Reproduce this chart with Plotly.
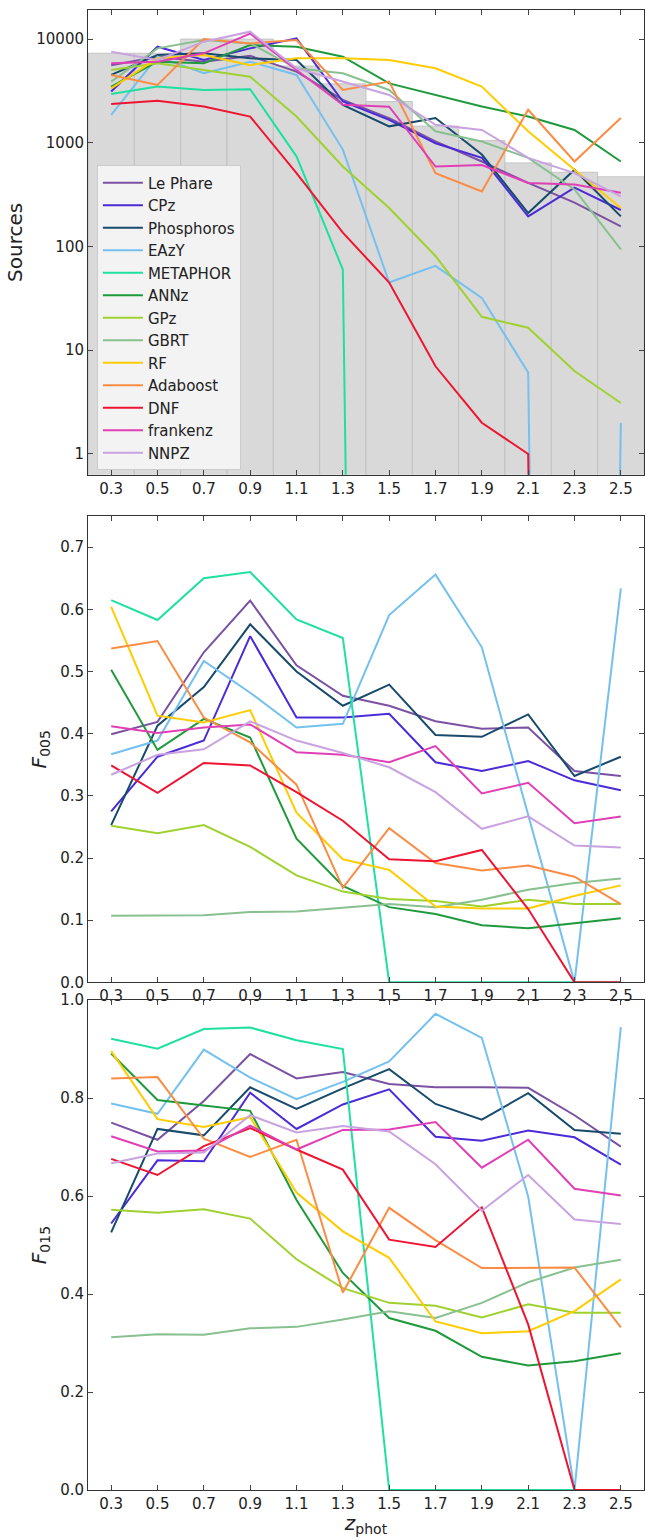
import plotly.graph_objects as go

z = [0.3, 0.5, 0.7, 0.9, 1.1, 1.3, 1.5, 1.7, 1.9, 2.1, 2.3, 2.5]
hist_counts = [7300, 7300, 10000, 10000, 5500, 3700, 2500, 1450, 1050, 640, 520, 470]

names = ["Le Phare", "CPz", "Phosphoros", "EAzY", "METAPHOR", "ANNz", "GPz", "GBRT",
         "RF", "Adaboost", "DNF", "frankenz", "NNPZ"]
colors = ["#7b52a3", "#4b2ad8", "#174a6b", "#74c0ee", "#1fe0a0", "#1e9a3c", "#9fd12f",
          "#88c090", "#ffcc00", "#fb8c43", "#ee1533", "#e03fb5", "#c9a2e0"]

sources = {
    "Le Phare": [5600, 6760, 6050, 6880, 4850, 2590, 1730, 1030, 660, 410, 265, 156],
    "CPz": [3120, 8440, 6280, 8130, 10150, 2500, 1660, 990, 715, 195, 370, 225],
    "Phosphoros": [4510, 7000, 7280, 6520, 6280, 2320, 1440, 1730, 770, 210, 550, 195],
    "EAzY": [1860, 6760, 4680, 6050, 4510, 860, 45, 65, 32, 6.1, 0, 2.0],
    "METAPHOR": [2960, 3480, 3230, 3280, 740, 60, 0, 0, 0, 0, 0, 0],
    "ANNz": [3480, 6050, 5830, 8760, 8440, 6760, 3740, 2890, 2240, 1790, 1330, 660],
    "GPz": [5030, 5830, 5030, 4340, 1790, 590, 235, 81, 21, 16.5, 6.3, 3.1],
    "GBRT": [3890, 8130, 9780, 9080, 5220, 4680, 3230, 1290, 1030, 715, 355, 94],
    "RF": [3350, 6520, 7000, 5600, 6520, 6520, 6280, 5220, 3480, 1290, 550, 235],
    "Adaboost": [4510, 3610, 10000, 9080, 9780, 3230, 3890, 510, 340, 2080, 660, 1730],
    "DNF": [2370, 2540, 2240, 1790, 510, 136, 45, 7.0, 2.0, 1.0, 0, 0],
    "frankenz": [5830, 6050, 7280, 11300, 5030, 2320, 2230, 590, 610, 410, 395, 330],
    "NNPZ": [7550, 6280, 9430, 11770, 5220, 3890, 2890, 1490, 1330, 715, 510, 305],
}
f005 = {
    "Le Phare": [.399, .419, .531, .614, .510, .461, .445, .420, .408, .410, .340, .332],
    "CPz": [.275, .363, .389, .557, .426, .426, .432, .354, .340, .356, .325, .309],
    "Phosphoros": [.253, .413, .475, .576, .500, .445, .479, .398, .395, .431, .332, .363],
    "EAzY": [.367, .389, .517, .466, .410, .416, .591, .656, .539, .270, 0, .634],
    "METAPHOR": [.615, .583, .650, .660, .584, .554, 0, 0, 0, 0, 0, 0],
    "ANNz": [.503, .374, .424, .394, .231, .155, .121, .110, .092, .087, .095, .103],
    "GPz": [.252, .240, .253, .218, .172, .146, .134, .131, .122, .133, .126, .126],
    "GBRT": [.107, .108, .108, .113, .114, .120, .126, .121, .133, .149, .160, .167],
    "RF": [.604, .429, .418, .438, .273, .198, .181, .122, .119, .119, .139, .156],
    "Adaboost": [.537, .549, .426, .386, .318, .152, .248, .192, .180, .188, .170, .126],
    "DNF": [.349, .305, .353, .349, .306, .260, .198, .195, .213, .118, 0, 0],
    "frankenz": [.412, .401, .410, .415, .370, .366, .354, .380, .304, .321, .256, .267],
    "NNPZ": [.334, .366, .375, .420, .389, .369, .346, .306, .247, .267, .220, .217],
}
f015 = {
    "Le Phare": [.750, .715, .794, .890, .840, .853, .829, .822, .822, .821, .765, .701],
    "CPz": [.544, .673, .671, .811, .737, .787, .818, .721, .713, .734, .720, .664],
    "Phosphoros": [.526, .737, .724, .822, .778, .820, .859, .788, .756, .810, .735, .727],
    "EAzY": [.789, .768, .899, .842, .798, .833, .875, .972, .923, .599, 0, .945],
    "METAPHOR": [.921, .901, .941, .944, .918, .900, 0, 0, 0, 0, 0, 0],
    "ANNz": [.891, .796, .785, .774, .592, .443, .351, .325, .272, .254, .263, .279],
    "GPz": [.572, .566, .573, .554, .471, .412, .382, .376, .352, .379, .362, .362],
    "GBRT": [.312, .318, .317, .330, .333, .348, .365, .351, .382, .424, .454, .470],
    "RF": [.896, .757, .741, .761, .607, .528, .474, .344, .320, .324, .365, .430],
    "Adaboost": [.840, .843, .717, .680, .715, .403, .576, .510, .453, .454, .454, .332],
    "DNF": [.676, .643, .702, .739, .695, .654, .511, .496, .577, .338, 0, 0],
    "frankenz": [.722, .691, .693, .744, .695, .735, .736, .751, .658, .715, .615, .601],
    "NNPZ": [.667, .687, .689, .765, .730, .743, .732, .665, .570, .643, .552, .543],
}

fig = go.Figure()
fig.add_trace(go.Bar(x=z, y=hist_counts, width=0.2, marker=dict(color="#d9d9d9", line=dict(color="#bdbdbd", width=0.8)),
                     showlegend=False, xaxis="x", yaxis="y", hoverinfo="skip"))
for n, c in zip(names, colors):
    ys = [v if v > 0 else 1e-30 for v in sources[n]]
    fig.add_trace(go.Scatter(x=z, y=ys, mode="lines", name=n, line=dict(color=c, width=2), xaxis="x", yaxis="y"))
for n, c in zip(names, colors):
    fig.add_trace(go.Scatter(x=z, y=f005[n], mode="lines", name=n, showlegend=False,
                             line=dict(color=c, width=2), xaxis="x2", yaxis="y2"))
for n, c in zip(names, colors):
    fig.add_trace(go.Scatter(x=z, y=f015[n], mode="lines", name=n, showlegend=False,
                             line=dict(color=c, width=2), xaxis="x3", yaxis="y3"))

ax = dict(range=[0.2, 2.6], tickvals=z, ticktext=[f"{v:.1f}" for v in z], ticks="inside", ticklen=5,
          showline=True, linecolor="#333", linewidth=1, mirror="ticks", showgrid=False, zeroline=False,
          tickfont=dict(size=15, color="#222"))
ay = dict(ticks="inside", ticklen=5, showline=True, linecolor="#333", linewidth=1, mirror="ticks",
          showgrid=False, zeroline=False, tickfont=dict(size=15, color="#222"))

fig.update_layout(
    width=646, height=1537, margin=dict(l=88, r=1, t=4, b=47),
    paper_bgcolor="white", plot_bgcolor="white",
    font=dict(family="DejaVu Sans", size=14, color="#222"),
    barmode="overlay",
    xaxis=dict(ax, domain=[0, 1], anchor="y"),
    yaxis=dict(ay, type="log", range=[-0.2, 4.28], domain=[0.686, 1.0], anchor="x",
               tickvals=[1, 10, 100, 1000, 10000], ticktext=["1", "10", "100", "1000", "10000"],
               title=dict(text="Sources", font=dict(size=20), standoff=8)),
    xaxis2=dict(ax, domain=[0, 1], anchor="y2"),
    yaxis2=dict(ay, range=[0, 0.75], tickvals=[0, .1, .2, .3, .4, .5, .6, .7],
                ticktext=["0.0", "0.1", "0.2", "0.3", "0.4", "0.5", "0.6", "0.7"],
                domain=[0.343, 0.658], anchor="x2",
                title=dict(text="<i>F</i><sub>005</sub>", font=dict(size=20), standoff=8)),
    xaxis3=dict(ax, domain=[0, 1], anchor="y3",
                title=dict(text="<i>z</i><sub>phot</sub>", font=dict(size=20), standoff=2)),
    yaxis3=dict(ay, range=[0, 1.0], tickvals=[0, .2, .4, .6, .8, 1.0],
                ticktext=["0.0", "0.2", "0.4", "0.6", "0.8", "1.0"],
                domain=[0.0, 0.331], anchor="x3",
                title=dict(text="<i>F</i><sub>015</sub>", font=dict(size=20), standoff=8)),
    legend=dict(x=0.016, y=0.895, xanchor="left", yanchor="top", bgcolor="rgba(245,245,245,0.92)",
                bordercolor="#cccccc", borderwidth=1, font=dict(size=15), tracegroupgap=0, itemwidth=40),
)
fig.write_html("out.html", config={"displayModeBar": False},
               post_script="document.body.style.margin='0';document.body.style.overflow='hidden';")
